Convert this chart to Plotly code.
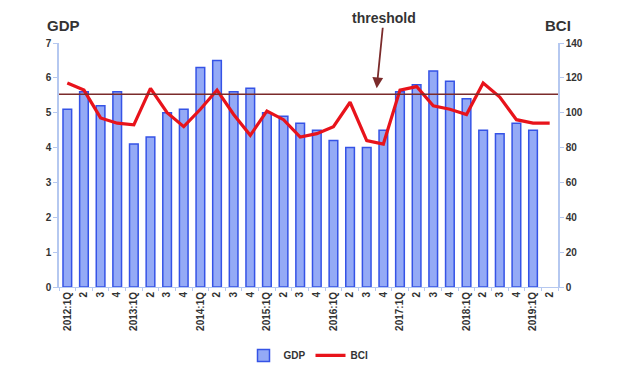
import plotly.graph_objects as go

years = [2012, 2013, 2014, 2015, 2016, 2017, 2018, 2019]
categories = []
tick_labels = []
for yr in years:
    for q in range(1, 5):
        if yr == 2019 and q > 2:
            break
        categories.append(f"{yr}:{q}Q")
        tick_labels.append(f"{yr}:1Q" if q == 1 else str(q))

gdp = [5.1, 5.6, 5.2, 5.6, 4.1, 4.3, 5.0, 5.1, 6.3, 6.5, 5.6, 5.7,
       5.0, 4.9, 4.7, 4.5, 4.2, 4.0, 4.0, 4.5, 5.6, 5.8, 6.2, 5.9,
       5.4, 4.5, 4.4, 4.7, 4.5]
bci = [117, 113, 97, 94, 93, 114, 100, 92, 102, 113, 99, 87,
       101, 96, 86, 88, 92, 106, 84, 82, 113, 115, 104, 102,
       99, 117, 109, 96, 94, 94]
threshold_gdp = 5.53

fig = go.Figure()
fig.add_trace(go.Bar(
    x=categories[:len(gdp)], y=gdp, name="<b>GDP</b>",
    marker=dict(color="#94aaf6", line=dict(color="#3553e6", width=1.5)),
    width=0.52, yaxis="y",
))
fig.add_trace(go.Scatter(
    x=categories, y=bci, name="<b>BCI</b>", mode="lines",
    line=dict(color="#e8131b", width=3.2), yaxis="y2",
))

fig.add_shape(type="line", xref="paper", yref="y", x0=0, x1=1,
              y0=threshold_gdp, y1=threshold_gdp,
              line=dict(color="#7b2b2b", width=1.6))

fig.add_annotation(x=18.6, y=threshold_gdp, xref="x", yref="y",
                   text="<b>threshold</b>", showarrow=True,
                   arrowhead=2, arrowsize=1.2, arrowwidth=1.8,
                   arrowcolor="#7b2b2b", ax=7, ay=-70, yshift=6,
                   font=dict(size=14, color="#333333", family="Liberation Sans"))

fig.add_annotation(xref="paper", yref="paper", x=-0.028, y=1.03,
                   text="<b>GDP</b>", showarrow=False, xanchor="left", yanchor="bottom",
                   font=dict(size=15, color="#333333", family="Liberation Sans"))
fig.add_annotation(xref="paper", yref="paper", x=1.0, y=1.03,
                   text="<b>BCI</b>", showarrow=False, xanchor="center", yanchor="bottom",
                   font=dict(size=15, color="#333333", family="Liberation Sans"))

axis_color = "#b5c8f0"
fig.update_layout(
    width=618, height=377,
    margin=dict(l=51, r=68, t=35, b=98, autoexpand=False),
    plot_bgcolor="white", paper_bgcolor="white",
    font=dict(family="Liberation Sans", color="#333333"),
    showlegend=True,
    legend=dict(orientation="h", x=0.5, xanchor="center",
                yref="container", y=0.04, yanchor="bottom",
                font=dict(size=10), itemwidth=30, tracegroupgap=0),
    xaxis=dict(
        type="category", categoryorder="array", categoryarray=categories,
        tickmode="array", tickvals=categories,
        ticktext=[f"<b>{t}</b>" for t in tick_labels],
        tickangle=-90, tickfont=dict(size=10, color="#333333"),
        showline=True, linecolor=axis_color, linewidth=1,
        ticks="outside", tickson="boundaries", ticklen=3, tickcolor=axis_color,
        showgrid=False, range=[-0.5, len(categories) - 0.5],
    ),
    yaxis=dict(
        range=[0, 7], dtick=1, showgrid=False, zeroline=False,
        showline=True, linecolor=axis_color, linewidth=1.5,
        ticks="outside", ticklen=4, tickcolor=axis_color,
        tickfont=dict(size=10, color="#333333"),
        tickprefix="<b>", ticksuffix="</b>",
    ),
    yaxis2=dict(
        range=[0, 140], dtick=20, overlaying="y", side="right",
        showgrid=False, zeroline=False,
        showline=True, linecolor=axis_color, linewidth=1.5,
        ticks="outside", ticklen=4, tickcolor=axis_color,
        tickfont=dict(size=10, color="#333333"),
        tickprefix="<b>", ticksuffix="</b>",
    ),
)

fig.write_html("out.html")
